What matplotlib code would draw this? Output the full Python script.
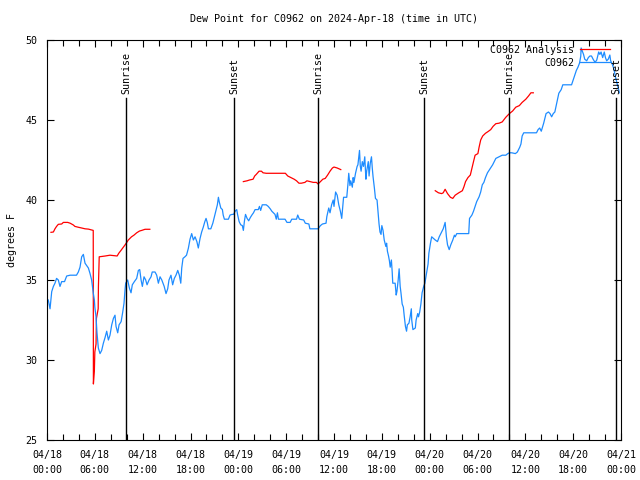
"""Dew point at C0962, station obs vs analysis, 2024-04-18..21 (UTC)."""
import numpy as np
import pandas as pd
import matplotlib
matplotlib.use('Agg')
import matplotlib.pyplot as plt
import matplotlib.dates as mdates

START = pd.Timestamp('2024-04-18 00:00')

# station obs: hours after START, dew point (F)
obs_hours = [
    0.16, 0.38, 0.59, 0.8, 1.0, 1.2, 1.42, 1.63, 1.84, 2.2, 2.47, 2.9, 3.7, 3.93, 4.14,
    4.35, 4.56, 4.77, 4.98, 5.19, 5.4, 5.6, 5.8, 5.94, 6.0, 6.15, 6.27, 6.44, 6.65, 6.86,
    7.07, 7.28, 7.49, 7.7, 7.9, 8.12, 8.33, 8.53, 8.66, 8.87, 9.04, 9.3, 9.5, 9.66, 9.79,
    9.87, 10.12, 10.33, 10.54, 10.7, 10.96, 11.25, 11.46, 11.63, 11.8, 11.96, 12.17, 12.38,
    12.55, 12.8, 13.05, 13.2, 13.55, 13.76, 13.97, 14.18, 14.4, 14.7, 14.93, 15.14, 15.3,
    15.55, 15.76, 15.97, 16.18, 16.4, 16.6, 16.78, 16.9, 17.06, 17.3, 17.5, 17.73, 17.94,
    18.15, 18.36, 18.57, 18.8, 18.98, 19.2, 19.4, 19.6, 19.8, 19.95, 20.1, 20.25, 20.55,
    20.8, 20.95, 21.16, 21.37, 21.5, 21.6, 21.8, 22.0, 22.1, 22.25, 22.75, 22.96, 23.2,
    23.4, 23.6, 23.8, 23.9, 24.1, 24.3, 24.5, 24.63, 24.77, 24.9, 25.1, 25.3, 25.5, 25.7,
    25.9, 26.1, 26.5, 26.65, 26.8, 27.0, 27.5, 27.75, 28.0, 28.2, 28.4, 28.6, 28.76, 28.9,
    29.03, 29.86, 30.1, 30.5, 30.7, 31.3, 31.45, 31.66, 32.2, 32.4, 32.85, 32.97, 34.0,
    34.3, 34.55, 35.0, 35.1, 35.34, 35.5, 35.7, 35.9, 36.0, 36.2, 36.4, 36.6, 36.8, 36.97,
    37.1, 37.2, 37.6, 37.75, 37.85, 38.0, 38.1, 38.3, 38.4, 38.5, 38.7, 38.9, 39.0, 39.2,
    39.3, 39.4, 39.55, 39.7, 39.86, 40.0, 40.1, 40.3, 40.4, 40.55, 40.7, 40.8, 40.9, 41.07,
    41.2, 41.4, 41.5, 41.65, 41.77, 41.9, 42.0, 42.15, 42.3, 42.5, 42.6, 42.7, 42.84, 42.95,
    43.05, 43.2, 43.3, 43.37, 43.67, 43.8, 43.9, 44.05, 44.17, 44.3, 44.4, 44.55, 44.7,
    44.8, 44.96, 45.1, 45.2, 45.4, 45.55, 45.7, 45.75, 45.9, 46.2, 46.3, 46.5, 46.6, 46.75,
    46.9, 47.05, 47.25, 47.4, 47.6, 47.8, 47.9, 48.1, 48.25, 48.7, 48.98, 49.2, 49.5, 49.7,
    49.94, 50.1, 50.24, 50.45, 50.65, 50.9, 51.1, 51.2, 51.4, 52.9, 53.0, 53.3, 53.5, 53.7,
    53.9, 54.2, 54.4, 54.6, 54.8, 55.0, 55.25, 55.45, 55.66, 55.9, 56.1, 56.3, 56.7, 57.1,
    57.55, 57.8, 58.0, 58.3, 58.75, 59.0, 59.3, 59.45, 59.6, 59.8, 61.4, 61.6, 61.8, 62.0,
    62.3, 62.6, 62.9, 63.1, 63.3, 63.5, 63.7, 63.95, 64.2, 64.5, 64.7, 65.8, 66.0, 66.2,
    66.4, 66.6, 66.8, 66.95, 67.0, 67.15, 67.3, 67.45, 67.7, 67.9, 68.1, 68.3, 68.5, 68.75,
    68.96, 69.2, 69.35, 69.5, 69.7, 69.9, 70.05, 70.2, 70.4, 70.6, 70.7, 70.9, 71.1, 71.3,
    71.5, 71.8,
]
obs_dewp = [
    33.75, 33.2, 34.27, 34.6, 34.8, 35.1, 35.0, 34.6, 34.9, 34.9, 35.25, 35.3, 35.3, 35.5, 35.8,
    36.45, 36.6, 36.05, 35.9, 35.75, 35.4, 35.0, 34.2, 33.75, 33.3, 32.7, 31.7, 30.75, 30.4, 30.6,
    31.05, 31.4, 31.8, 31.25, 31.55, 32.2, 32.6, 32.8, 32.1, 31.7, 32.2, 32.4, 33.0, 33.55, 34.4,
    34.8, 35.0, 34.5, 34.2, 34.7, 34.9, 35.1, 35.6, 35.65, 35.0, 34.6, 35.2, 35.0,
    34.7, 35.0, 35.2, 35.5, 35.5, 35.3, 34.8, 35.2, 35.0, 34.6, 34.15, 34.45, 35.0,
    35.3, 34.7, 35.1, 35.3, 35.6, 35.3, 34.8, 35.75, 36.35, 36.45, 36.55, 36.98, 37.55,
    37.9, 37.5, 37.7, 37.4, 37.0, 37.6, 38.0, 38.3, 38.65, 38.85, 38.6, 38.2, 38.2,
    38.55, 38.85, 39.27, 39.7, 40.17, 39.9, 39.5, 39.4, 39.06, 38.8, 38.8, 39.06, 39.1,
    39.1, 39.3, 39.4, 39.1, 38.65, 38.45, 38.4, 38.1, 38.7, 39.1, 38.85, 38.7, 38.9, 39.06,
    39.2, 39.4, 39.4, 39.6, 39.35, 39.7, 39.7, 39.6, 39.45, 39.3, 39.2, 39.1, 38.8, 39.2,
    38.8, 38.8, 38.6, 38.6, 38.8, 38.8, 39.06, 38.8, 38.75, 38.55, 38.5, 38.2, 38.2,
    38.4, 38.5, 38.55, 38.96, 39.5, 39.2, 39.7, 40.0, 39.6, 40.5, 40.3, 39.7, 39.3, 38.85,
    39.6, 40.17, 40.17, 41.0, 41.67, 40.9, 41.2, 40.8, 41.4, 41.1, 41.67, 42.1, 42.2, 43.1,
    42.1, 41.8, 42.4, 42.1, 42.7, 41.3, 41.8, 42.4, 41.5, 42.3, 42.7, 42.0, 41.45, 40.73,
    40.1, 40.0, 39.4, 38.5, 38.0, 37.85, 38.4, 38.1, 37.5, 37.1, 37.3, 36.8, 36.5, 36.2,
    35.8, 36.25, 35.5, 34.8, 34.8, 34.06, 34.3, 35.0, 35.7, 34.6, 34.2, 33.5, 33.3,
    32.8, 32.1, 31.8, 32.2, 32.3, 32.7, 33.2, 32.5, 31.9, 32.0, 32.5, 32.9, 32.7, 33.0,
    33.5, 34.2, 34.6, 34.8, 35.4, 36.0, 36.67, 37.3, 37.7, 37.5, 37.4, 37.7, 38.0, 38.2,
    38.6, 37.7, 37.2, 36.9, 37.2, 37.5, 37.8, 37.7, 37.9, 37.9, 38.85, 39.06, 39.3, 39.6,
    39.9, 40.2, 40.5, 40.95, 41.1, 41.4, 41.7, 41.85, 42.0, 42.2, 42.4, 42.6, 42.7, 42.8,
    42.8, 42.9, 42.95, 42.95, 42.9, 43.0, 43.3, 43.5, 44.0, 44.2, 44.2, 44.4, 44.5, 44.3,
    44.8, 45.4, 45.5, 45.4, 45.2, 45.4, 45.5, 46.1, 46.67, 46.9, 47.2, 47.2, 47.5, 47.8,
    48.1, 48.3, 48.56, 48.98, 49.5, 49.3, 49.1, 48.8, 48.7, 48.9, 49.0, 49.0, 48.8, 48.6,
    48.75, 49.25, 49.1, 49.25, 48.9, 49.25, 48.9, 48.7, 48.8, 49.06, 48.7, 48.5, 48.2, 47.7,
    47.3, 46.7,
]

# analysis: NaN marks gaps in the record
anl_hours = [
    0.5, 0.8, 1.0, 1.2, 1.42, 1.84, 2.05, 2.6, 2.9, 3.3, 3.5, 3.9, 4.35, 4.77, 5.2, 5.8,
    5.82, 5.94, 6.0, 6.15, 6.2, 6.42, 6.45, 6.55, 7.3, 7.9, 8.8, 9.0, 9.28, 9.5, 9.8, 10.0,
    10.2, 10.4, 10.6, 10.9, 11.25, 11.6, 11.88, 12.3, 12.9, 18.0,
    24.63, 25.1, 25.4, 25.85, 26.05, 26.25, 26.6, 26.9, 27.1, 27.5, 29.9, 30.2, 30.6, 31.0,
    31.3, 31.6, 31.9, 32.35, 32.6, 33.0, 33.4, 33.8, 34.0, 34.3, 34.6, 34.9, 35.2, 35.5,
    35.8, 36.0, 36.4, 36.85, 42.0,
    48.7, 49.1, 49.5, 49.7, 49.94, 50.24, 50.6, 50.9, 51.2, 51.65, 52.1, 52.3, 52.5, 52.8,
    53.1, 53.3, 53.5, 53.7, 54.05, 54.2, 54.4, 54.65, 55.0, 55.3, 55.66, 55.95, 56.3, 56.7,
    57.1, 57.55, 58.0, 58.4, 58.8, 59.25, 59.6, 60.06, 60.4, 60.7, 61.0,
]
anl_dewp = [
    37.98, 38.0, 38.2, 38.35, 38.48, 38.5, 38.6, 38.6, 38.55, 38.44, 38.35, 38.3, 38.25, 38.2, 38.18, 38.1,
    28.5, 29.3, 30.5, 31.0, 32.6, 33.2, 34.6, 36.45, 36.5, 36.55, 36.5, 36.67, 36.85, 37.0, 37.2, 37.35,
    37.5, 37.6, 37.7, 37.8, 37.95, 38.06, 38.1, 38.17, 38.17, np.nan,
    41.15, 41.2, 41.25, 41.3, 41.5, 41.6, 41.8, 41.8, 41.7, 41.67, 41.67, 41.5, 41.4, 41.3,
    41.2, 41.05, 41.05, 41.1, 41.2, 41.15, 41.1, 41.1, 41.0, 41.15, 41.3, 41.35, 41.56, 41.8,
    42.0, 42.06, 42.0, 41.9, np.nan,
    40.58, 40.45, 40.4, 40.45, 40.67, 40.4, 40.17, 40.1, 40.3, 40.45, 40.58, 40.83, 41.15, 41.4,
    41.56, 41.98, 42.4, 42.8, 42.9, 43.3, 43.75, 44.0, 44.17, 44.27, 44.4, 44.6, 44.77, 44.8,
    44.88, 45.17, 45.4, 45.56, 45.8, 45.9, 46.1, 46.3, 46.5, 46.7, 46.7,
]

# sun events (hours after START)
sun_hours = [9.9, 23.45, 34.0, 47.3, 57.97, 71.4]
sun_labels = ['Sunrise', 'Sunset', 'Sunrise', 'Sunset', 'Sunrise', 'Sunset']

FONT = 'DejaVu Sans Mono'
FS = 7.2


def to_time(hours):
    return START + pd.to_timedelta(hours, unit='h')


plt.rcParams['font.family'] = FONT
plt.rcParams['font.size'] = FS

fig = plt.figure(figsize=(6.4, 4.8), dpi=100)
ax = fig.add_axes([47 / 640, 40 / 480, 574 / 640, 400 / 480])

ax.plot(to_time(anl_hours), anl_dewp, color='#ff0000', lw=0.9, label='C0962 Analysis')
ax.plot(to_time(obs_hours), obs_dewp, color='#1e8cff', lw=0.9, label='C0962')

for h, lab in zip(sun_hours, sun_labels):
    t = to_time(h)
    ax.plot([t, t], [25, 46.4], color='k', lw=1.0)
    ax.text(t, 46.6, lab, rotation=90, ha='center', va='bottom', fontsize=FS)

ax.set_xlim(to_time(0), to_time(72))
ax.set_ylim(25, 50)
ax.set_yticks(np.arange(25, 51, 5))
ax.xaxis.set_major_locator(mdates.HourLocator(byhour=[0, 6, 12, 18]))
ax.xaxis.set_minor_locator(mdates.HourLocator(byhour=range(0, 24, 2)))
ax.xaxis.set_major_formatter(mdates.DateFormatter('%m/%d\n%H:%M'))

ax.tick_params(which='both', direction='in', top=True, right=True, width=0.8)
ax.tick_params(which='major', length=5)
ax.tick_params(axis='x', which='major', pad=7)
ax.tick_params(axis='y', which='major', pad=7)
ax.tick_params(which='minor', length=4)
for s in ax.spines.values():
    s.set_linewidth(0.8)

ax.set_ylabel('degrees F', labelpad=6)
ax.set_title('Dew Point for C0962 on 2024-Apr-18 (time in UTC)', fontsize=FS, pad=13)

# legend sits in the corner, key lines to the right of the text
ax.legend(loc='upper right', bbox_to_anchor=(1 - 9 / 574, 1 - 3 / 400), frameon=False,
          markerfirst=False, handlelength=3.0, handletextpad=0.6, labelspacing=0.3,
          borderaxespad=0, borderpad=0.2)

# gnuplot-ish spacing between date and time lines
fig.canvas.draw()
plt.setp(ax.get_xticklabels(), linespacing=1.7)

fig.savefig('out.png', dpi=100)
